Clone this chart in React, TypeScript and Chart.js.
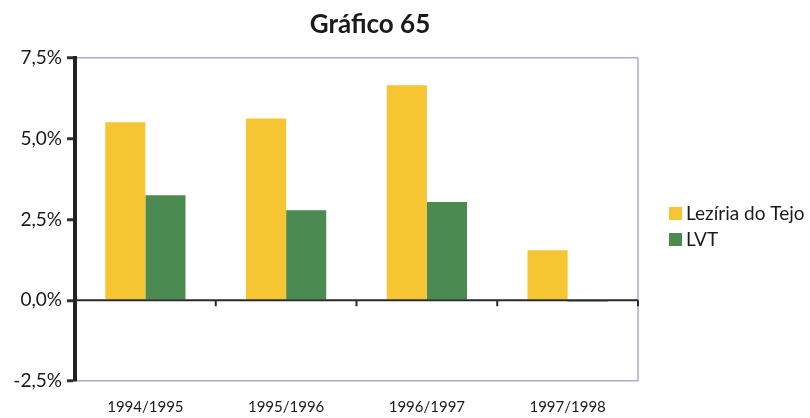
import React, { useEffect, useRef } from "react";
import { Chart, registerables } from "chart.js";

Chart.register(...registerables);

const categories = ["1994/1995", "1995/1996", "1996/1997", "1997/1998"];
const leziriaValues = [5.51, 5.63, 6.66, 1.55];
const lvtValues = [3.25, 2.79, 3.04, -0.04];
const seriesNames = ["Lezíria do Tejo", "LVT"];
const seriesColors = ["#f6c532", "#4b8a50"];
const yTicks = [-2.5, 0, 2.5, 5, 7.5];
const titleText = "Gráfico 65";

const FONT = "Lato, 'Open Sans', sans-serif";

const framePlugin = {
  id: "framePlugin",
  afterDatasetsDraw(chart: any) {
    const { ctx, chartArea, scales } = chart;
    const x = scales.x;
    const y = scales.y;
    ctx.save();
    ctx.strokeStyle = "#b3a9c6";
    ctx.lineWidth = 1.5;
    ctx.beginPath();
    ctx.moveTo(chartArea.right, chartArea.top);
    ctx.lineTo(chartArea.right, chartArea.bottom);
    ctx.stroke();
    const y0 = y.getPixelForValue(0);
    ctx.strokeStyle = "#2a2a2a";
    ctx.lineWidth = 2;
    ctx.beginPath();
    ctx.moveTo(chartArea.left, y0);
    ctx.lineTo(chartArea.right, y0);
    ctx.stroke();
    const n = categories.length;
    const step = x.getPixelForValue(1) - x.getPixelForValue(0);
    for (let i = 0; i < n; i++) {
      const px = x.getPixelForValue(i) + step / 2;
      ctx.beginPath();
      ctx.moveTo(px, y0);
      ctx.lineTo(px, y0 + 6);
      ctx.stroke();
    }
    ctx.restore();
  },
  afterDraw(chart: any) {
    const { ctx, chartArea } = chart;
    ctx.save();
    ctx.font = `bold 26px ${FONT}`;
    ctx.fillStyle = "#1a1a1a";
    ctx.textAlign = "center";
    ctx.textBaseline = "middle";
    ctx.fillText(titleText, 370, 25);
    // legend
    ctx.font = `19px ${FONT}`;
    ctx.textAlign = "left";
    const lx = chartArea.right + 31;
    const ly = [213, 239];
    seriesNames.forEach((name, i) => {
      ctx.fillStyle = seriesColors[i];
      ctx.fillRect(lx, ly[i] - 6, 13, 13);
      ctx.fillStyle = "#1a1a1a";
      ctx.fillText(name, lx + 17, ly[i] + 1);
    });
    ctx.restore();
  },
};

export default function App() {
  const canvasRef = useRef<HTMLCanvasElement | null>(null);

  useEffect(() => {
    const canvas = canvasRef.current;
    if (!canvas) return;
    const chart = new Chart(canvas, {
      type: "bar",
      data: {
        labels: categories,
        datasets: [
          {
            label: seriesNames[0],
            data: leziriaValues,
            backgroundColor: seriesColors[0],
            categoryPercentage: 0.57,
            barPercentage: 1,
          },
          {
            label: seriesNames[1],
            data: lvtValues,
            backgroundColor: seriesColors[1],
            categoryPercentage: 0.57,
            barPercentage: 1,
          },
        ],
      },
      plugins: [framePlugin],
      options: {
        responsive: false,
        animation: false,
        layout: { padding: { top: 58, right: 172, bottom: 0, left: 0 } },
        plugins: {
          title: { display: false },
          tooltip: { enabled: false },
          legend: { display: false },
        },
        scales: {
          x: {
            grid: { display: false },
            border: { display: false },
            ticks: {
              font: { family: FONT, size: 15 },
              color: "#1a1a1a",
              padding: 9,
            },
            afterFit(scale: any) {
              scale.height = 37;
            },
          },
          y: {
            min: -2.5,
            max: 7.5,
            afterBuildTicks(scale: any) {
              scale.ticks = yTicks.map((v) => ({ value: v }));
            },
            border: { display: true, color: "#222", width: 4 },
            grid: {
              drawOnChartArea: true,
              drawTicks: true,
              tickLength: 8,
              tickWidth: 3,
              tickColor: "#333",
              color: (c: any) =>
                c.tick && (c.tick.value === 7.5 || c.tick.value === -2.5) ? "#b3a9c6" : "rgba(0,0,0,0)",
              lineWidth: 1.5,
            },
            ticks: {
              font: { family: FONT, size: 19 },
              color: "#1a1a1a",
              padding: 5,
              callback: (v: any) => Number(v).toFixed(1).replace(".", ",") + "%",
            },
            afterFit(scale: any) {
              scale.width = 75;
            },
          },
        },
      },
    });
    return () => chart.destroy();
  }, []);

  return (
    <div style={{ position: "fixed", left: 0, top: 0, width: 810, height: 418, background: "#fff" }}>
      <canvas ref={canvasRef} width={810} height={418} />
    </div>
  );
}
